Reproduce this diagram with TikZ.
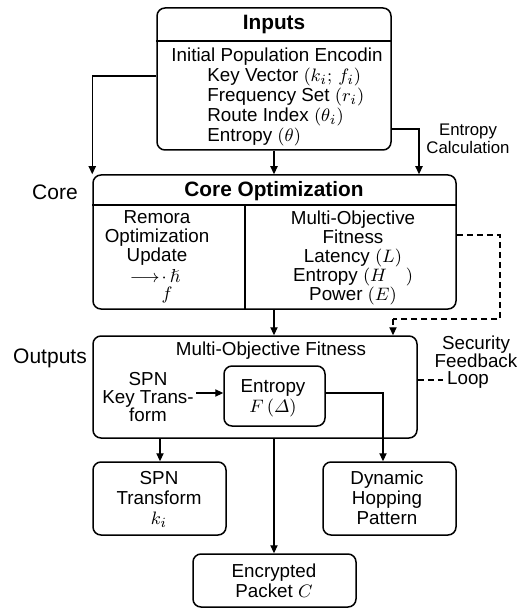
\documentclass[tikz,border=0pt]{standalone}
\usepackage{amsmath,amssymb}
\usepackage{fontspec}
\setmainfont{Liberation Sans}
\usetikzlibrary{arrows.meta,calc}
\begin{document}
\begin{tikzpicture}[x=0.5pt,y=-0.5pt,
  font=\fontsize{9.4pt}{10pt}\selectfont,
  box/.style={draw,line width=0.75pt,rounded corners=4pt,inner sep=0pt},
  txt/.style={inner sep=0pt,align=center},
  ttl/.style={inner sep=0pt,font=\fontsize{10.4pt}{11pt}\selectfont\bfseries},
  lbl/.style={inner sep=0pt,font=\fontsize{10.5pt}{11pt}\selectfont},
  arr/.style={line width=0.65pt,-{Triangle[length=4pt,width=3.6pt]}},
  ln/.style={line width=0.7pt},
  dsh/.style={line width=0.65pt,dash pattern=on 3pt off 2pt}]
\useasboundingbox (0,0) rectangle (517,609);
% boxes
\node[box,minimum width=117pt,minimum height=71pt] (inputs) at (274,79) {};
\node[box,minimum width=181.5pt,minimum height=67pt] (core) at (274.5,242) {};
\node[box,minimum width=162pt,minimum height=51pt] (outputs) at (255,387) {};
\node[box,minimum width=50.5pt,minimum height=30pt] (ent) at (274.5,396) {};
\node[box,minimum width=66.5pt,minimum height=36.5pt] (spnt) at (159.5,498.5) {};
\node[box,minimum width=66.5pt,minimum height=36.5pt] (dyn) at (389.5,498.5) {};
\node[box,minimum width=81.5pt,minimum height=26.5pt] (enc) at (274.5,580.5) {};
% dividers
\draw[ln] (inputs.west |- 0,41) -- (inputs.east |- 0,41);
\draw[ln] (core.west |- 0,205) -- (core.east |- 0,205);
\draw[ln] (245,205) -- (245,0 |- core.south);
% texts
\node[ttl] (tin) at (274,25) {Inputs};
\node[txt] (t1) at (277,57) {Initial Population Encodin};
\node[txt,anchor=west,align=left] (t2) at (207,107) {Key Vector $(k_{i};\,f_i)$\\Frequency Set $(r_i)$\\Route Index $(\theta_i)$\\Entropy $(\theta)$};
\node[ttl] (tco) at (274,191) {Core Optimization};
\node[lbl] (lcore) at (55,192) {Core};
\node[txt,font=\fontsize{9.4pt}{9.4pt}\selectfont] (cl) at (157,238) {Remora\\Optimization\\Update};
\node[txt] (clsym) at (155,276) {$\longrightarrow\!\cdot\,\hslash$};
\node[txt] (clf) at (167,295) {$f$};
\node[txt,font=\fontsize{9.4pt}{9.5pt}\selectfont] (cr) at (353,258) {Multi-Objective\\Fitness\\Latency $(L)$\\Entropy $(H\quad)$\\Power $(E)$};
\node[lbl] (lout) at (50,358) {Outputs};
\node[txt] (tmo) at (271,351) {Multi-Objective Fitness};
\node[txt,font=\fontsize{9.4pt}{8.8pt}\selectfont] (spnk) at (148,397) {SPN\\Key Trans-\\form};
\node[txt] (tent) at (273,398) {Entropy\\$F\,(\varDelta)$};
\node[txt] (tspn) at (159,499) {SPN\\Transform\\$k_i$};
\node[txt] (tdyn) at (387,498) {Dynamic\\Hopping\\Pattern};
\node[txt] (tenc) at (274,581) {Encrypted\\Packet $C$};
\node[txt,font=\fontsize{8.4pt}{8.8pt}\selectfont] (ecal) at (468,139) {Entropy\\Calculation};
\node[txt,font=\fontsize{9.4pt}{8.8pt}\selectfont] (sec) at (476,352) {Security\\Feedback};
\node[txt] (loop) at (468,380) {Loop};
% coordinates
\coordinate (a1) at (inputs.west |- 0,76);
\coordinate (a3) at (inputs.east |- 0,129);
\coordinate (d1) at (core.east |- 0,235);
\coordinate (d2) at (500,319);
\coordinate (d3) at (393,319);
\coordinate (e1) at (ent.east |- 0,393);
\coordinate (s1) at (outputs.east |- 0,380);
% connectors
\draw[arr] (a1) -| (core.north west);
\draw[arr] (inputs.south) -- (core.north -| inputs.south);
\draw[arr] (a3) -| (419,0 |- core.north);
\draw[arr] (core.south -| 274,0) -- (outputs.north -| 274,0);
\draw[dsh] (d1) -| (d2) -- (d3);
\draw[dsh,-{Triangle[length=4pt,width=3.6pt]}] (d3) -- (outputs.north -| d3);
\draw[arr] (spnk.east |- 0,393) ++(2,0) -- (ent.west |- 0,393);
\draw[arr] (e1) -| (dyn.north -| 383,0);
\draw[arr] (outputs.south -| 160,0) -- (spnt.north -| 160,0);
\draw[arr] (outputs.south -| 274,0) -- (enc.north -| 274,0);
\draw[dsh] (s1) -- ([xshift=-2pt]loop.west);
\end{tikzpicture}
\end{document}
